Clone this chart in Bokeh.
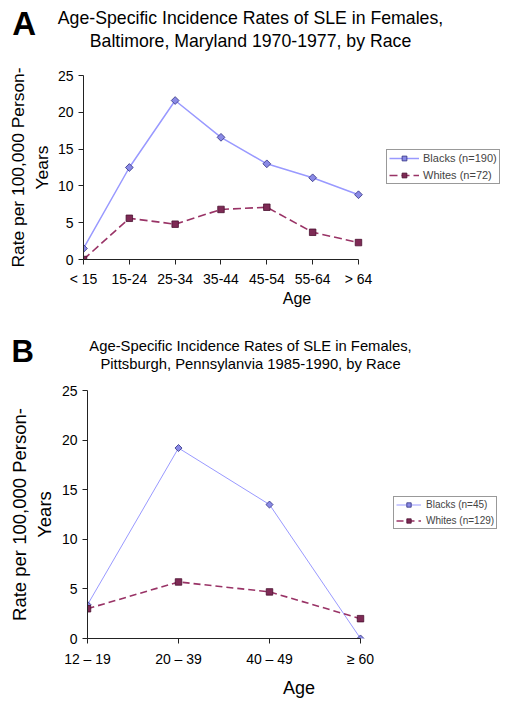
import math
from bokeh.plotting import figure
from bokeh.layouts import column
from bokeh.models import Range1d, FixedTicker, Label, Legend, LegendItem
from bokeh.embed import file_html
from bokeh.resources import INLINE

FONT = "Liberation Sans"

# ---- Panel A data ----
a_ages = ["< 15", "15-24", "25-34", "35-44", "45-54", "55-64", "> 64"]
a_blacks = [1.5, 12.5, 21.6, 16.6, 13.0, 11.1, 8.8]
a_whites = [0.0, 5.6, 4.8, 6.8, 7.1, 3.7, 2.3]
a_title = ["Age-Specific Incidence Rates of SLE in Females,",
           "Baltimore, Maryland 1970-1977, by Race"]
a_legend = ["Blacks (n=190)", "Whites (n=72)"]

# ---- Panel B data ----
b_ages = ["12 \u2013 19", "20 \u2013 39", "40 \u2013 49", "\u2265 60"]
b_blacks = [3.4, 19.2, 13.5, 0.0]
b_whites = [3.0, 5.7, 4.7, 2.0]
b_title = ["Age-Specific Incidence Rates of SLE in Females,",
           "Pittsburgh, Pennsylanvia 1985-1990, by Race"]
b_legend = ["Blacks (n=45)", "Whites (n=129)"]

y_ticks = [0, 5, 10, 15, 20, 25]
y_label = "Rate per 100,000 Person-\nYears"
x_label = "Age"

BLUE_LINE = "#9999FF"
BLUE_FILL = "#8A8AE6"
BLUE_EDGE = "#2E2E80"
RED_LINE = "#993366"
RED_FILL = "#7E2A55"
RED_EDGE = "#4A1030"

W = 510


def header(letter, title, cfg):
    h = cfg["h"]
    p = figure(width=W, height=h, output_backend="svg", toolbar_location=None, tools="",
               x_range=Range1d(0, W), y_range=Range1d(h, 0),
               x_axis_location=None, y_axis_location=None, frame_align=False,
               min_border=0, min_border_left=0, min_border_right=0,
               min_border_top=0, min_border_bottom=0)
    p.outline_line_color = None
    p.grid.visible = False
    p.background_fill_color = "white"
    p.border_fill_color = "white"
    p.add_layout(Label(x=cfg["lx"], y=cfg["ly"], text=letter, text_align="center",
                       text_baseline="middle", text_font=FONT,
                       text_font_size=cfg["letter_fs"], text_font_style="bold",
                       text_color="black"))
    for i, t in enumerate(title):
        p.add_layout(Label(x=cfg["tx"], y=cfg["ty"][i], text=t, text_align="center",
                           text_baseline="middle", text_font=FONT,
                           text_font_size=cfg["title_fs"], text_color="black"))
    return p


def panel(ages, blacks, whites, legend_labels, cfg):
    n = len(ages)
    xs = list(range(n))
    p = figure(width=W, height=cfg["height"], output_backend="svg",
               toolbar_location=None, tools="", frame_align=False,
               x_range=Range1d(0, cfg["xend"]), y_range=Range1d(0, 25),
               min_border_left=cfg["left"], min_border_right=0,
               min_border_top=cfg["top"], min_border_bottom=cfg["bottom"])
    p.outline_line_color = None
    p.grid.visible = False
    p.background_fill_color = "white"
    p.border_fill_color = "white"

    p.xaxis.ticker = FixedTicker(ticks=xs)
    p.xaxis.major_label_overrides = {i: a for i, a in enumerate(ages)}
    p.xaxis.bounds = (0, n - 1)
    p.yaxis.ticker = FixedTicker(ticks=y_ticks)
    for ax in (p.xaxis, p.yaxis):
        ax.axis_line_color = "#222222"
        ax.major_tick_line_color = "#222222"
        ax.major_tick_out = 5
        ax.major_tick_in = 0
        ax.minor_tick_line_color = None
        ax.major_label_text_font = FONT
        ax.major_label_text_font_size = cfg["tick_fs"]
        ax.major_label_text_color = "black"
        ax.axis_label_text_font = FONT
        ax.axis_label_text_font_style = "normal"
        ax.axis_label_text_color = "black"
    p.xaxis.major_label_standoff = cfg["xlstand"]
    p.yaxis.major_label_standoff = 5
    p.yaxis.axis_label = y_label
    p.yaxis.axis_label_text_font_size = cfg["ylab_fs"]
    p.yaxis.axis_label_standoff = cfg["ystand"]
    p.xaxis.axis_label = x_label
    p.xaxis.axis_label_text_font_size = cfg["xlab_fs"]
    p.xaxis.axis_label_standoff = cfg["xstand"]

    lb = p.line(xs, blacks, line_color=BLUE_LINE, line_width=cfg["lw_b"])
    mb = p.scatter(xs, blacks, marker="square", angle=math.pi / 4, size=cfg["dsize"],
                   fill_color=BLUE_FILL, line_color=BLUE_EDGE, line_width=0.8)
    lw = p.line(xs, whites, line_color=RED_LINE, line_width=1.6, line_dash=cfg["dash"])
    mw = p.scatter(xs, whites, marker="square", size=cfg["ssize"],
                   fill_color=RED_FILL, line_color=RED_EDGE, line_width=0.8)

    leg = Legend(items=[LegendItem(label=legend_labels[0], renderers=[lb, mb]),
                        LegendItem(label=legend_labels[1], renderers=[lw, mw])],
                 location=cfg["leg_loc"], margin=0, padding=2, spacing=cfg["leg_sp"],
                 glyph_width=cfg["gw"], glyph_height=cfg["gh"], label_height=cfg["gh"],
                 label_standoff=cfg["lstand"],
                 label_text_font=FONT, label_text_font_size=cfg["leg_fs"],
                 border_line_color="#333333", border_line_width=1,
                 background_fill_color="white", background_fill_alpha=1)
    p.add_layout(leg)
    return p


hdr_a = dict(h=62, lx=23.7, ly=23, letter_fs="33px", tx=250, ty=[17, 40], title_fs="17.7px")
hdr_b = dict(h=65, lx=22.2, ly=41, letter_fs="31px", tx=250, ty=[35, 53.3], title_fs="14.8px")

cfg_a = dict(height=248, left=83, top=13, bottom=51, xend=427 / 45.83,
             tick_fs="14px", ylab_fs="17.4px", ystand=3, xlab_fs="16px", xstand=0,
             xlstand=6, lw_b=1.5, dsize=5.5, ssize=6.5, dash="8 4",
             leg_loc=(303, 75), leg_sp=5, gw=30, gh=12, lstand=4, leg_fs="11px")
cfg_b = dict(height=326, left=87, top=15, bottom=63, xend=423 / 91.0,
             tick_fs="14px", ylab_fs="18.5px", ystand=4, xlab_fs="18px", xstand=8,
             xlstand=7, lw_b=1.0, dsize=5, ssize=6.5, dash="7 4",
             leg_loc=(306, 109), leg_sp=5, gw=25, gh=11, lstand=5, leg_fs="10px")

ha = header("A", a_title, hdr_a)
pa = panel(a_ages, a_blacks, a_whites, a_legend, cfg_a)
hb = header("B", b_title, hdr_b)
pb = panel(b_ages, b_blacks, b_whites, b_legend, cfg_b)

layout = column(ha, pa, hb, pb, spacing=0)
open("out.html", "w").write(file_html(layout, INLINE))
